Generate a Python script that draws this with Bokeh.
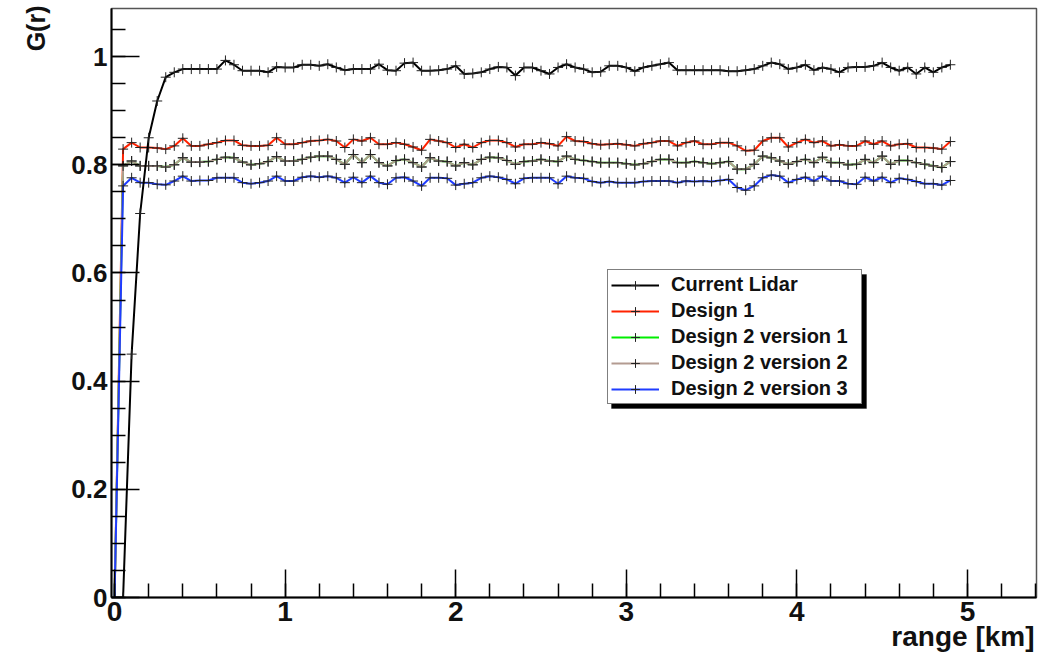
import numpy as np
from bokeh.plotting import figure
from bokeh.models import (Legend, LegendItem, BoxAnnotation, FixedTicker,
                          NumeralTickFormatter, Range1d, Title)
from bokeh.embed import file_html
from bokeh.resources import INLINE

# ---------------- data ----------------
range_km = [round(0.05 * i, 2) for i in range(99)]

current_lidar = [
    0.0, 0.0, 0.45, 0.71, 0.85, 0.918, 0.962, 0.971, 0.977, 0.977,
    0.977, 0.977, 0.977, 0.993, 0.985, 0.974, 0.974, 0.974, 0.971, 0.981,
    0.98, 0.98, 0.985, 0.985, 0.983, 0.986, 0.98, 0.975, 0.977, 0.977,
    0.977, 0.986, 0.975, 0.974, 0.988, 0.989, 0.974, 0.974, 0.975, 0.977,
    0.983, 0.968, 0.969, 0.971, 0.977, 0.981, 0.98, 0.965, 0.98, 0.98,
    0.974, 0.968, 0.98, 0.986, 0.98, 0.977, 0.971, 0.972, 0.983, 0.983,
    0.98, 0.973, 0.98, 0.983, 0.986, 0.989, 0.975, 0.975, 0.975, 0.975,
    0.975, 0.975, 0.973, 0.973, 0.975, 0.977, 0.983, 0.989, 0.986, 0.977,
    0.98, 0.985, 0.975, 0.98, 0.977, 0.971, 0.98, 0.981, 0.981, 0.983,
    0.989, 0.98, 0.974, 0.98, 0.968, 0.98, 0.971, 0.98, 0.985]

design1 = [
    0.0, 0.829, 0.841, 0.832, 0.832, 0.831, 0.829, 0.835, 0.849, 0.835,
    0.835, 0.838, 0.841, 0.845, 0.845, 0.836, 0.835, 0.835, 0.836, 0.85,
    0.838, 0.838, 0.841, 0.844, 0.845, 0.847, 0.844, 0.832, 0.847, 0.844,
    0.85, 0.838, 0.838, 0.841, 0.838, 0.833, 0.827, 0.847, 0.844, 0.841,
    0.832, 0.838, 0.832, 0.841, 0.845, 0.845, 0.841, 0.833, 0.838, 0.838,
    0.841, 0.839, 0.835, 0.852, 0.844, 0.843, 0.839, 0.837, 0.838, 0.839,
    0.837, 0.835, 0.839, 0.841, 0.844, 0.844, 0.835, 0.841, 0.844, 0.838,
    0.838, 0.841, 0.841, 0.835, 0.826, 0.827, 0.844, 0.85, 0.85, 0.833,
    0.841, 0.847, 0.841, 0.844, 0.835, 0.837, 0.835, 0.835, 0.844, 0.838,
    0.844, 0.835, 0.838, 0.839, 0.832, 0.832, 0.831, 0.829, 0.843]

design2_v1 = [
    0.0, 0.798, 0.807, 0.798, 0.798, 0.798, 0.796, 0.8, 0.813, 0.805,
    0.805, 0.806, 0.81, 0.814, 0.813, 0.805, 0.8, 0.802, 0.806, 0.815,
    0.807, 0.807, 0.81, 0.814, 0.816, 0.816, 0.81, 0.801, 0.819, 0.804,
    0.819, 0.804, 0.798, 0.808, 0.81, 0.804, 0.796, 0.813, 0.807, 0.806,
    0.798, 0.804, 0.8, 0.81, 0.814, 0.813, 0.808, 0.801, 0.806, 0.807,
    0.81, 0.807, 0.806, 0.816, 0.81, 0.808, 0.806, 0.804, 0.804, 0.804,
    0.802, 0.8, 0.802, 0.806, 0.81, 0.81, 0.804, 0.804, 0.806, 0.804,
    0.802, 0.804, 0.806, 0.792, 0.792, 0.801, 0.816, 0.813, 0.807, 0.801,
    0.806, 0.81, 0.804, 0.814, 0.804, 0.804, 0.8, 0.801, 0.81, 0.804,
    0.816, 0.801, 0.808, 0.808, 0.804, 0.801, 0.798, 0.795, 0.806]

design2_v2 = [
    0.0, 0.798, 0.807, 0.798, 0.798, 0.798, 0.796, 0.8, 0.813, 0.805,
    0.805, 0.806, 0.81, 0.814, 0.813, 0.805, 0.8, 0.802, 0.806, 0.815,
    0.807, 0.807, 0.81, 0.814, 0.816, 0.816, 0.81, 0.801, 0.819, 0.804,
    0.819, 0.804, 0.798, 0.808, 0.81, 0.804, 0.796, 0.813, 0.807, 0.806,
    0.798, 0.804, 0.8, 0.81, 0.814, 0.813, 0.808, 0.801, 0.806, 0.807,
    0.81, 0.807, 0.806, 0.816, 0.81, 0.808, 0.806, 0.804, 0.804, 0.804,
    0.802, 0.8, 0.802, 0.806, 0.81, 0.81, 0.804, 0.804, 0.806, 0.804,
    0.802, 0.804, 0.806, 0.792, 0.792, 0.801, 0.816, 0.813, 0.807, 0.801,
    0.806, 0.81, 0.804, 0.814, 0.804, 0.804, 0.8, 0.801, 0.81, 0.804,
    0.816, 0.801, 0.808, 0.808, 0.804, 0.801, 0.798, 0.795, 0.806]

design2_v3 = [
    0.0, 0.761, 0.776, 0.767, 0.767, 0.764, 0.763, 0.77, 0.779, 0.77,
    0.771, 0.771, 0.776, 0.776, 0.776, 0.767, 0.765, 0.767, 0.77, 0.779,
    0.77, 0.77, 0.777, 0.779, 0.777, 0.779, 0.776, 0.767, 0.777, 0.767,
    0.779, 0.767, 0.764, 0.776, 0.777, 0.77, 0.761, 0.776, 0.776, 0.775,
    0.7625, 0.765, 0.767, 0.776, 0.779, 0.777, 0.773, 0.765, 0.775, 0.776,
    0.776, 0.776, 0.765, 0.779, 0.776, 0.775, 0.769, 0.767, 0.769, 0.767,
    0.767, 0.767, 0.769, 0.77, 0.77, 0.77, 0.767, 0.77, 0.769, 0.77,
    0.769, 0.771, 0.773, 0.758, 0.753, 0.761, 0.776, 0.781, 0.779, 0.767,
    0.773, 0.777, 0.77, 0.779, 0.77, 0.77, 0.765, 0.764, 0.777, 0.77,
    0.777, 0.767, 0.775, 0.773, 0.769, 0.765, 0.765, 0.7625, 0.771]

series_names = ["Current Lidar", "Design 1", "Design 2 version 1",
                "Design 2 version 2", "Design 2 version 3"]
x_ticks = [0, 1, 2, 3, 4, 5]
y_ticks = [0, 0.2, 0.4, 0.6, 0.8, 1.0]
x_title = "range [km]"
y_title = "G(r)"

# ---------------- layout ----------------
W, H = 1042, 656
FL, FR, FT, FB = 111, 1036, 8, 597
XMIN, XMAX = -0.018, 5.405
YMIN, YMAX = 0.0, 1.089

def px2x(px):
    return XMIN + (px - FL) / (FR - FL) * (XMAX - XMIN)

def py2y(py):
    return YMIN + (FB - py) / (FB - FT) * (YMAX - YMIN)

p = figure(width=W, height=H, output_backend="svg", toolbar_location=None,
           x_range=Range1d(XMIN, XMAX), y_range=Range1d(YMIN, YMAX),
           min_border_left=FL, min_border_right=W - FR,
           min_border_top=FT, min_border_bottom=H - FB)
p.background_fill_color = "white"
p.border_fill_color = "white"
p.grid.visible = False
p.outline_line_color = "#555555"
p.outline_line_width = 1.5

FONT = "Liberation Sans"
for ax in (p.xaxis[0], p.yaxis[0]):
    ax.axis_line_color = "black"
    ax.axis_line_width = 2
    ax.major_tick_line_color = "black"
    ax.minor_tick_line_color = "black"
    ax.major_tick_line_width = 1.5
    ax.minor_tick_line_width = 1.5
    ax.major_tick_out = 0
    ax.minor_tick_out = 0
    ax.major_label_text_font = FONT
    ax.major_label_text_font_style = "bold"
    ax.major_label_text_color = "#111111"

p.xaxis.major_label_text_font_size = "28px"
p.yaxis.major_label_text_font_size = "26px"

p.xaxis.ticker = FixedTicker(ticks=x_ticks,
                             minor_ticks=[round(0.2 * i, 1) for i in range(28)])
p.yaxis.ticker = FixedTicker(ticks=y_ticks,
                             minor_ticks=[round(0.05 * i, 2) for i in range(22)])
p.xaxis.major_tick_in = 28
p.xaxis.minor_tick_in = 14
p.yaxis.major_tick_in = 28
p.yaxis.minor_tick_in = 14
p.yaxis.formatter = NumeralTickFormatter(format="0.[0]")
p.xaxis.formatter = NumeralTickFormatter(format="0")
p.xaxis.major_label_standoff = 4
p.yaxis.major_label_standoff = 4

# axis titles as right-aligned title panels (ROOT puts them at the axis ends)
p.add_layout(Title(text=x_title, align="right", offset=2, standoff=-10,
                   text_font=FONT, text_font_style="bold",
                   text_font_size="28px", text_color="#111111"), "below")
p.add_layout(Title(text=y_title, align="right", offset=-3, standoff=38,
                   text_font=FONT, text_font_style="bold",
                   text_font_size="25px", text_color="#111111"), "left")

colors = ["black", "#ff2200", "#00ee00", "#b39b91", "#1f3cff"]
values = [current_lidar, design1, design2_v1, design2_v2, design2_v3]

items = {}
draw_order = [1, 2, 3, 4, 0]
for k in draw_order:
    ln = p.line(range_km, values[k], line_color=colors[k], line_width=2)
    sc = p.scatter(range_km, values[k], marker="cross", size=10,
                   line_color="#222222", line_width=1)
    items[k] = [ln, sc]

# legend box (with ROOT-like drop shadow behind it)
LG_L, LG_T, LG_R, LG_B = 607, 270, 862, 404
p.add_layout(BoxAnnotation(left=px2x(LG_L + 4), right=px2x(LG_R + 4),
                           top=py2y(LG_T + 4), bottom=py2y(LG_B + 4),
                           fill_color="black", fill_alpha=1.0,
                           line_color="black", level="overlay"))

legend = Legend(items=[LegendItem(label=series_names[k], renderers=items[k])
                       for k in range(5)],
                location=(LG_L - FL, FB - LG_B),
                label_text_font=FONT, label_text_font_style="bold",
                label_text_font_size="20px", label_text_color="#111111",
                glyph_width=48, glyph_height=22, label_height=22,
                label_width=187, label_standoff=12, spacing=3, padding=3,
                margin=0, border_line_color="black", border_line_width=1.5,
                background_fill_color="white", background_fill_alpha=1.0)
p.add_layout(legend)

open("out.html", "w").write(file_html(p, INLINE))
